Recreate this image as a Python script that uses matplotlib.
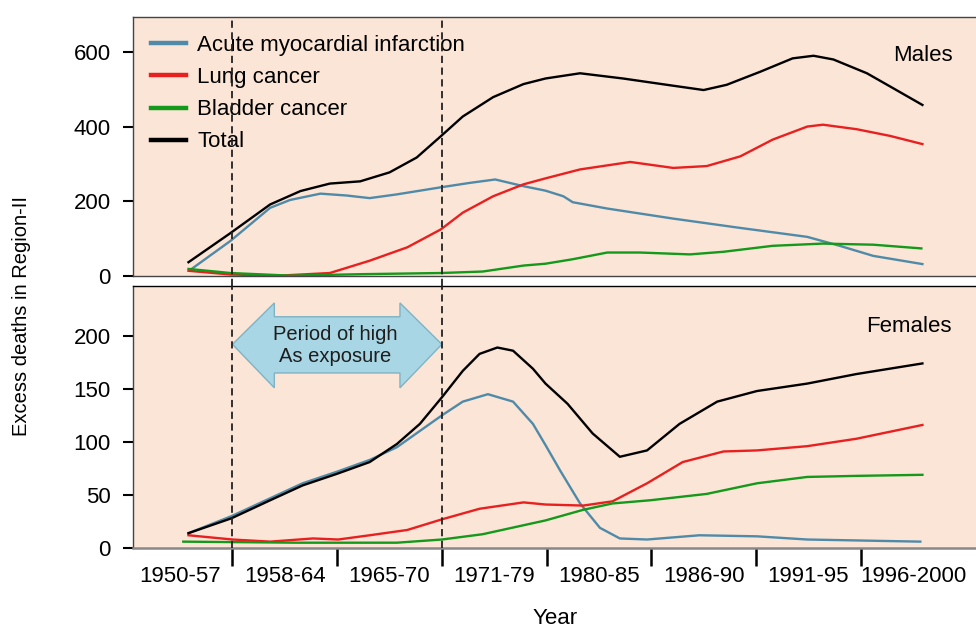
import matplotlib.pyplot as plt
from matplotlib.lines import Line2D
from matplotlib.patches import Polygon

plt.rc("font", family="Liberation Sans", size=16)

# period labels, placed at x = 0..7
periods = ["1950-57", "1958-64", "1965-70", "1971-79",
           "1980-85", "1986-90", "1991-95", "1996-2000"]
exposure_start, exposure_end = 0.5, 2.5

# ---- Males (x in period units) ----
m_ami_x = [0.11, 0.48, 0.86, 1.05, 1.34, 1.59, 1.81, 2.07, 2.49, 2.77, 3.01,
           3.28, 3.49, 3.66, 3.75, 4.08, 4.71, 5.35, 5.99, 6.30, 6.62, 7.09]
m_ami = [19, 94, 183, 204, 221, 216, 209, 219, 238, 250, 259,
         241, 229, 214, 198, 181, 154, 129, 105, 81, 54, 32]

m_lung_x = [0.08, 0.48, 0.95, 1.43, 1.81, 2.17, 2.49, 2.70, 2.99, 3.28, 3.49,
            3.82, 4.30, 4.71, 5.03, 5.35, 5.66, 5.99, 6.14, 6.46, 6.78, 7.09]
m_lung = [14, 4, 1, 8, 41, 77, 125, 170, 214, 246, 262,
          286, 306, 290, 295, 321, 366, 401, 406, 394, 376, 354]

m_bladder_x = [0.08, 0.48, 1.05, 1.75, 2.49, 2.89, 3.28, 3.49, 3.75, 4.08,
               4.39, 4.87, 5.19, 5.66, 6.14, 6.62, 7.08]
m_bladder = [19, 8, 1, 5, 8, 12, 28, 33, 45, 63, 63, 58, 65, 81, 87, 84, 74]

m_total_x = [0.08, 0.48, 0.86, 1.15, 1.43, 1.72, 2.00, 2.26, 2.49, 2.70, 2.99,
             3.28, 3.49, 3.82, 4.23, 4.65, 5.00, 5.22, 5.54, 5.85, 6.05, 6.24,
             6.56, 6.81, 7.09]
m_total = [37, 115, 192, 228, 248, 254, 278, 318, 375, 428, 480,
           515, 530, 544, 530, 513, 499, 513, 548, 584, 591, 581,
           544, 504, 459]

# ---- Females ----
f_ami_x = [0.08, 0.49, 1.17, 1.50, 1.81, 2.07, 2.50, 2.70, 2.94, 3.18, 3.37,
           3.49, 3.63, 3.82, 4.01, 4.20, 4.46, 4.96, 5.51, 5.99, 7.07]
f_ami = [14, 30, 61, 72, 83, 95, 125, 138, 145, 138, 117,
         97, 73, 42, 19, 9, 8, 12, 11, 8, 6]

f_lung_x = [0.08, 0.50, 0.86, 1.27, 1.51, 1.81, 2.17, 2.50, 2.86, 3.28,
            3.49, 3.85, 4.13, 4.46, 4.80, 5.19, 5.51, 5.99, 6.46, 7.09]
f_lung = [12, 8, 6, 9, 8, 12, 17, 27, 37, 43,
          41, 40, 44, 61, 81, 91, 92, 96, 103, 116]

f_bladder_x = [0.03, 1.12, 2.07, 2.50, 2.89, 3.49, 3.85, 4.13, 4.49, 5.03,
               5.51, 5.99, 6.46, 7.09]
f_bladder = [6, 5, 5, 8, 13, 26, 36, 42, 45, 51, 61, 67, 68, 69]

f_total_x = [0.08, 0.49, 0.86, 1.17, 1.50, 1.81, 2.07, 2.29, 2.50, 2.70, 2.86,
             3.03, 3.18, 3.37, 3.49, 3.70, 3.94, 4.20, 4.46, 4.77, 5.13, 5.51,
             5.99, 6.46, 7.09]
f_total = [14, 28, 45, 59, 70, 81, 98, 117, 142, 167, 183,
           189, 186, 169, 155, 136, 108, 86, 92, 117, 138, 148,
           155, 164, 174]

series_names = ["Acute myocardial infarction", "Lung cancer",
                "Bladder cancer", "Total"]
colors = ["#4f8aa8", "#e8201f", "#14991a", "black"]

BG = "#fbe5d6"
W, H = 976, 628

fig = plt.figure(figsize=(W / 100, H / 100), dpi=100)


def px_axes(left, top, right, bottom):
    return fig.add_axes([left / W, 1 - bottom / H,
                         (right - left) / W, (bottom - top) / H])


ax_m = px_axes(133, 17, 980, 276)
ax_f = px_axes(133, 286, 980, 548)

males = [(m_ami_x, m_ami), (m_lung_x, m_lung),
         (m_bladder_x, m_bladder), (m_total_x, m_total)]
females = [(f_ami_x, f_ami), (f_lung_x, f_lung),
           (f_bladder_x, f_bladder), (f_total_x, f_total)]

for ax, data in [(ax_m, males), (ax_f, females)]:
    ax.set_facecolor(BG)
    for (xs, ys), c in zip(data, colors):
        ax.plot(xs, ys, color=c, lw=1.7, solid_joinstyle="round")
    ax.set_xlim(-0.45, 7.64)
    ax.tick_params(axis="y", length=7, width=1.5, pad=9, labelsize=16)
    for s in ax.spines.values():
        s.set_color("#444444")
        s.set_linewidth(1.0)
    ax.spines["right"].set_visible(False)

ax_m.set_ylim(0, 695)
ax_m.set_yticks([0, 200, 400, 600])
ax_m.tick_params(axis="x", bottom=False, labelbottom=False)

ax_f.set_ylim(0, 247)
ax_f.set_yticks([0, 50, 100, 150, 200])
ax_f.spines["bottom"].set_color("#888888")
ax_f.spines["bottom"].set_linewidth(1.8)
ax_f.spines["top"].set_color("black")
ax_f.set_xticks([i + 0.5 for i in range(7)])
ax_f.set_xticklabels([])
ax_f.set_xticks(range(len(periods)), minor=True)
ax_f.set_xticklabels(periods, minor=True, fontsize=16)
ax_f.tick_params(axis="x", which="major", length=13, width=1.8, color="black")
ax_f.tick_params(axis="x", which="minor", length=0, pad=13)

# exposure period markers
dash = dict(color="#222222", lw=1.3, ls=(0, (4, 2.5)), zorder=6)
for x in (exposure_start, exposure_end):
    ax_m.axvline(x, ymin=-0.04, ymax=1, clip_on=False, **dash)
    ax_f.axvline(x, **dash)

# block double arrow
head = 0.40
arrow = Polygon([(exposure_start, 192), (exposure_start + head, 231),
                 (exposure_start + head, 218), (exposure_end - head, 218),
                 (exposure_end - head, 231), (exposure_end, 192),
                 (exposure_end - head, 151), (exposure_end - head, 165),
                 (exposure_start + head, 165), (exposure_start + head, 151)],
                closed=True, fc="#a8d6e4", ec="#7fb3c4", lw=1.0, zorder=4)
ax_f.add_patch(arrow)
ax_f.text((exposure_start + exposure_end) / 2 - 0.015, 191,
          "Period of high\nAs exposure", ha="center", va="center",
          fontsize=14.5, color="#1e1e1e", linespacing=1.15, zorder=5)

ax_m.text(0.968, 0.853, "Males", transform=ax_m.transAxes,
          ha="right", va="center", fontsize=16)
ax_f.text(0.967, 0.847, "Females", transform=ax_f.transAxes,
          ha="right", va="center", fontsize=16)

handles = [Line2D([], [], color=c, lw=3.2) for c in colors]
ax_m.legend(handles, series_names, loc="upper left",
            bbox_to_anchor=(0.021, 0.93), frameon=False, fontsize=16,
            borderpad=0, borderaxespad=0, handlelength=1.6,
            handletextpad=0.5, labelspacing=0.5)

fig.text(22 / W, 1 - 316 / H, "Excess deaths in Region-II",
         rotation=90, ha="center", va="center", fontsize=14.5)
fig.text(555 / W, 1 - 618 / H, "Year", ha="center", va="center", fontsize=16)

fig.savefig("out.png", dpi=100)
